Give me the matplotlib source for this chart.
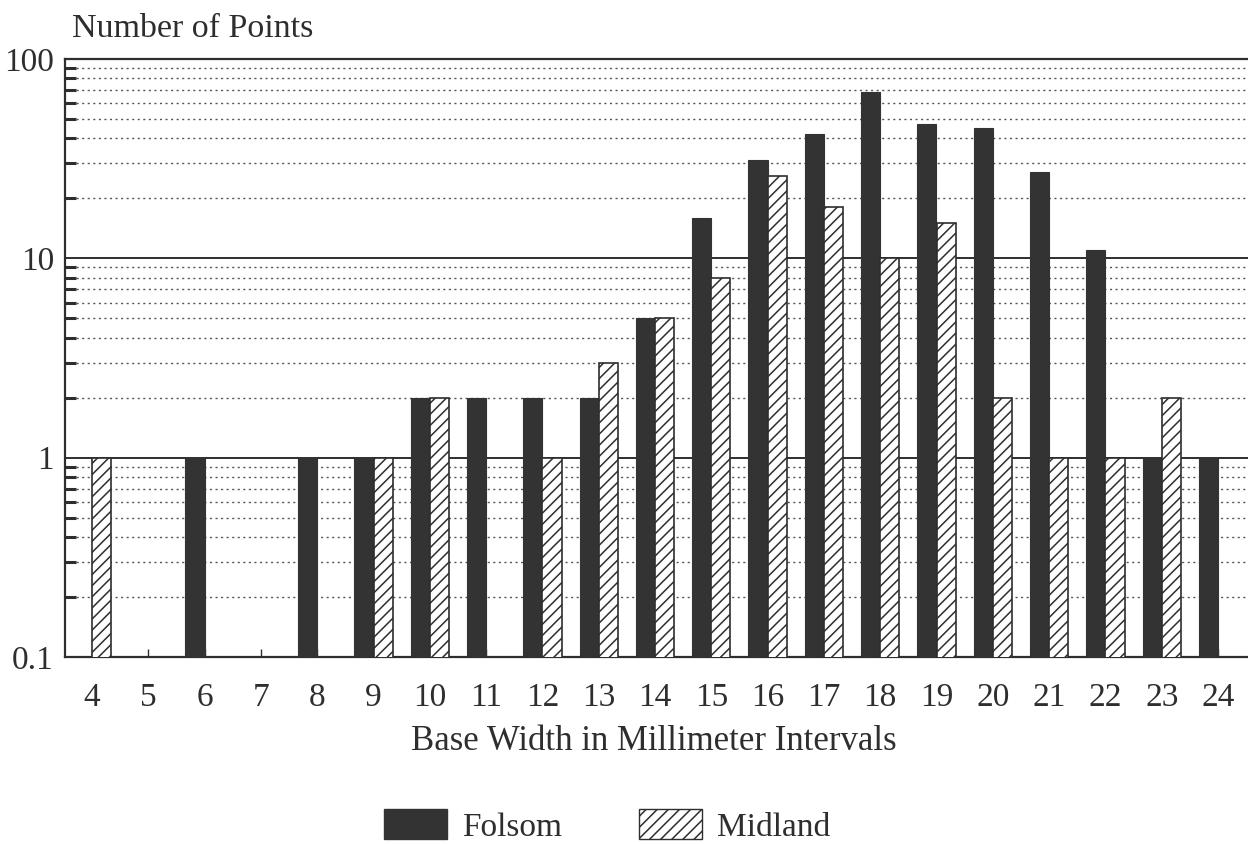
import matplotlib
matplotlib.use("Agg")
import matplotlib.pyplot as plt
from matplotlib.ticker import FixedLocator, FixedFormatter, NullFormatter
from matplotlib.patches import Patch
import numpy as np

widths = [4, 5, 6, 7, 8, 9, 10, 11, 12, 13, 14, 15, 16, 17, 18, 19, 20, 21, 22, 23, 24]
folsom = [0, 0, 1, 0, 1, 1, 2, 2, 2, 2, 5, 16, 31, 42, 68, 47, 45, 27, 11, 1, 1]
midland = [1, 0, 0, 0, 0, 1, 2, 0, 1, 3, 5, 8, 26, 18, 10, 15, 2, 1, 1, 2, 0]
ytick_vals = [0.1, 1, 10, 100]
ytick_labels = ["0.1", "1", "10", "100"]

plt.rcParams['font.family'] = ['Liberation Serif', 'DejaVu Serif']
plt.rcParams['hatch.linewidth'] = 1.1
ink = "#2e2e2e"

fig = plt.figure(figsize=(12.48, 8.44), dpi=100)
ax = fig.add_axes([65/1248, 1 - 657/844, (1262 - 65)/1248, (657 - 59)/844])

x = np.array(widths, dtype=float)
f = np.array(folsom, dtype=float)
m = np.array(midland, dtype=float)
f[f == 0] = np.nan
m[m == 0] = np.nan
bw = 0.34

ax.set_yscale('log')
ax.bar(x - bw/2, f, width=bw, color="#333333", edgecolor="#333333", linewidth=0.8, zorder=3)
ax.bar(x + bw/2, m, width=bw, color="white", edgecolor=ink, hatch="///", linewidth=1.2, zorder=3)

ax.set_ylim(0.1, 100)
ax.set_xlim(4 - 27/56.3, 4 + (1262 - 92)/56.3)

ax.yaxis.set_major_locator(FixedLocator(ytick_vals))
ax.yaxis.set_major_formatter(FixedFormatter(ytick_labels))
minors = [k * 10.0**e for e in (-1, 0, 1) for k in range(2, 10)]
ax.yaxis.set_minor_locator(FixedLocator(minors))
ax.yaxis.set_minor_formatter(NullFormatter())

ax.grid(True, which='major', axis='y', color=ink, linewidth=1.4, linestyle='-')
ax.grid(True, which='minor', axis='y', color="#555555", linewidth=1.0, linestyle=(0, (1.5, 2.5)))
ax.set_axisbelow(True)

ax.tick_params(axis='y', which='major', length=0, pad=8, labelsize=24, labelcolor=ink)
ax.tick_params(axis='y', which='minor', direction='in', length=8, width=2.2, color=ink)
ax.set_xticks(widths)
ax.set_xticklabels([str(w) for w in widths])
ax.tick_params(axis='x', direction='in', length=6, width=1, color=ink, pad=18, labelsize=24, labelcolor=ink)

for side in ('left', 'bottom', 'top'):
    ax.spines[side].set_color(ink)
    ax.spines[side].set_linewidth(1.6)
ax.spines['right'].set_visible(False)

fig.text(72/1248, 1 - 29/844, "Number of Points", fontsize=24.5, color=ink, ha='left', va='center')
fig.text(654/1248, 1 - 741/844, "Base Width in Millimeter Intervals", fontsize=25, color=ink, ha='center', va='center')

handles = [Patch(facecolor="#333333", edgecolor="#333333", label="Folsom"),
           Patch(facecolor="white", edgecolor=ink, hatch="///", label="Midland")]
fig.legend(handles=handles, loc='center', bbox_to_anchor=(607/1248, 1 - 826/844), ncol=2,
           frameon=False, fontsize=24, handlelength=1.9, handleheight=1.0,
           handletextpad=0.45, columnspacing=2.3, labelcolor=ink)

fig.savefig("out.png", dpi=100)
